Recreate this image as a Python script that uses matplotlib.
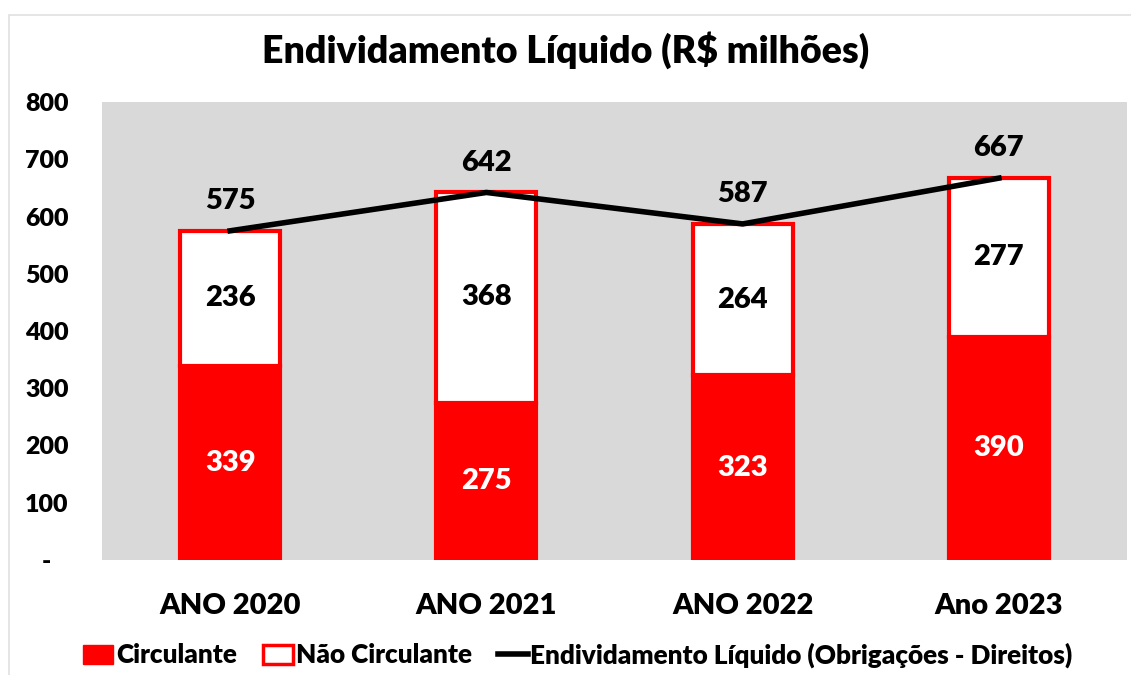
import numpy as np
import matplotlib
matplotlib.use("Agg")
import matplotlib.pyplot as plt
from matplotlib.patches import Patch, Rectangle
from matplotlib.lines import Line2D

# data
categories = ["ANO 2020", "ANO 2021", "ANO 2022", "Ano 2023"]
circulante = [339, 275, 323, 390]
nao_circulante = [236, 368, 264, 277]
endividamento = [575, 642, 587, 667]
yticks = [0, 100, 200, 300, 400, 500, 600, 700, 800]
ytick_labels = ["-   ", "100", "200", "300", "400", "500", "600", "700", "800"]

plt.rcParams["font.family"] = ["Lato", "DejaVu Sans"]
plt.rcParams["font.weight"] = "heavy"
WT = "heavy"

RED = "#FF0000"

fig = plt.figure(figsize=(11.31, 6.75), dpi=100)
ax = fig.add_axes([102 / 1131, 1 - 560 / 675, 1025 / 1131, 458 / 675])
ax.set_facecolor("#D9D9D9")

# thin outer chart border (top and left only visible)
fig.add_artist(Rectangle((9 / 1131, -0.1), 1.2, 1 - 15 / 675 + 0.1,
                         transform=fig.transFigure, fill=False,
                         edgecolor="#E0E0E0", linewidth=1.2))

x = np.arange(len(categories))
w = 0.39

ax.bar(x, circulante, width=w, color=RED, edgecolor=RED, linewidth=3, zorder=2)
ax.bar(x, nao_circulante, width=w, bottom=circulante, color="white",
       edgecolor=RED, linewidth=3, zorder=2)
ax.plot(x, endividamento, color="black", linewidth=4, zorder=3)

for i in range(len(x)):
    ax.text(x[i], circulante[i] / 2, str(circulante[i]), ha="center", va="center",
            color="white", fontsize=21, fontweight=WT, zorder=4)
    ax.text(x[i], circulante[i] + nao_circulante[i] / 2, str(nao_circulante[i]),
            ha="center", va="center", color="black", fontsize=21,
            fontweight=WT, zorder=4)
    ax.text(x[i], endividamento[i] + 52, str(endividamento[i]), ha="center",
            va="center", color="black", fontsize=21, fontweight=WT, zorder=4)

ax.set_xlim(-0.5, len(x) - 0.5)
ax.set_ylim(0, 800)
ax.set_yticks(yticks)
ax.set_yticklabels(ytick_labels, fontweight=WT)
ax.set_xticks(x)
ax.set_xticklabels(categories, fontweight=WT)
ax.tick_params(axis="y", length=0, pad=24, labelsize=18)
ax.tick_params(axis="x", length=0, pad=24, labelsize=21)
for s in ax.spines.values():
    s.set_visible(False)

fig.text(0.5, 1 - 50 / 675, "Endividamento Líquido (R$ milhões)", ha="center",
         va="center", fontsize=27, fontweight=WT)

handles = [
    Patch(facecolor=RED, edgecolor=RED, linewidth=1),
    Patch(facecolor="white", edgecolor=RED, linewidth=2.5),
    Line2D([0], [0], color="black", linewidth=4),
]
labels = ["Circulante", "Não Circulante",
          "Endividamento Líquido (Obrigações - Direitos)"]
fig.legend(handles, labels, loc="center", bbox_to_anchor=(0.511, 1 - 655 / 675),
           ncol=3, frameon=False, prop={"size": 18.8, "weight": WT},
           handlelength=1.15, handleheight=0.75, handletextpad=0.1,
           columnspacing=1.0)

fig.savefig("out.png", dpi=100)
